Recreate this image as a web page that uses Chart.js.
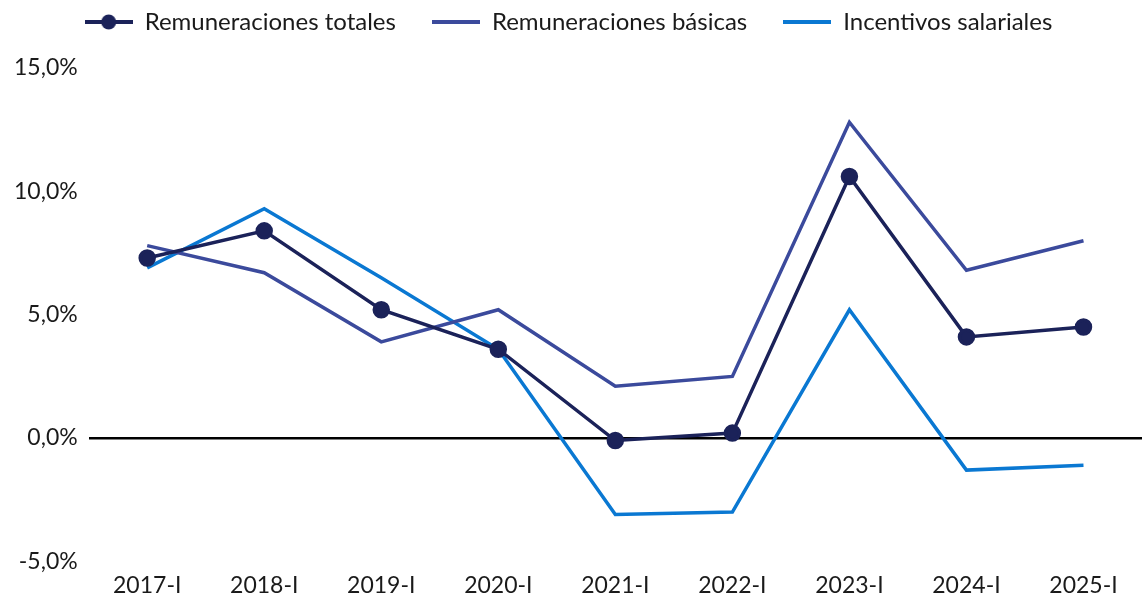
<!DOCTYPE html>
<html lang="es">
<head>
<meta charset="utf-8">
<title>Remuneraciones</title>
<script src="https://cdn.jsdelivr.net/npm/chart.js@4.4.1/dist/chart.umd.min.js"></script>
<style>
    html, body { margin: 0; padding: 0; background: #ffffff; }
    #wrap { position: relative; width: 1142px; height: 601px; }
</style>
</head>
<body>
<div id="wrap"><canvas id="chart"></canvas></div>
<script>
// Data
const periods = ['2017-I', '2018-I', '2019-I', '2020-I', '2021-I', '2022-I', '2023-I', '2024-I', '2025-I'];
const totales = [7.3, 8.4, 5.2, 3.6, -0.1, 0.2, 10.6, 4.1, 4.5];
const basicas = [7.8, 6.7, 3.9, 5.2, 2.1, 2.5, 12.8, 6.8, 8.0];
const incentivos = [6.9, 9.3, 6.5, 3.6, -3.1, -3.0, 5.2, -1.3, -1.1];
const yTicks = [-5, 0, 5, 10, 15];

const FONT = 'Lato, "Open Sans", sans-serif';
const C_TOT = '#1b2259';
const C_BAS = '#3b4a9c';
const C_INC = '#0a78d2';

// little legend markers: a line, optionally with a dot
function legendMarker(color, withDot) {
    const c = document.createElement('canvas');
    c.width = 48;
    c.height = 20;
    const ctx = c.getContext('2d');
    ctx.strokeStyle = color;
    ctx.lineWidth = 4;
    ctx.beginPath();
    ctx.moveTo(0, 10);
    ctx.lineTo(48, 10);
    ctx.stroke();
    if (withDot) {
        ctx.fillStyle = color;
        ctx.beginPath();
        ctx.arc(24, 10, 7.5, 0, Math.PI * 2);
        ctx.fill();
    }
    return c;
}

const markers = [legendMarker(C_TOT, true), legendMarker(C_BAS, false), legendMarker(C_INC, false)];

// extra room under the legend, and nudge it a little to the left
const legendGap = {
    id: 'legendGap',
    beforeInit(chart) {
        const fit = chart.legend.fit;
        chart.legend.fit = function () {
            fit.bind(chart.legend)();
            this.height += 24;
        };
    },
    afterLayout(chart) {
        chart.legend.right -= 20;
    }
};

new Chart(document.getElementById('chart'), {
    type: 'line',
    data: {
        labels: periods,
        datasets: [{
            label: 'Remuneraciones totales',
            data: totales,
            borderColor: C_TOT,
            backgroundColor: C_TOT,
            borderWidth: 3.5,
            pointRadius: 7,
            pointHoverRadius: 7,
            tension: 0
        }, {
            label: 'Remuneraciones básicas',
            data: basicas,
            borderColor: C_BAS,
            backgroundColor: C_BAS,
            borderWidth: 3.5,
            pointRadius: 0,
            tension: 0
        }, {
            label: 'Incentivos salariales',
            data: incentivos,
            borderColor: C_INC,
            backgroundColor: C_INC,
            borderWidth: 3.5,
            pointRadius: 0,
            tension: 0
        }]
    },
    plugins: [legendGap],
    options: {
        responsive: true,
        maintainAspectRatio: false,
        animation: false,
        layout: { autoPadding: false, padding: { left: 3, right: -12, top: -26, bottom: -8 } },
        plugins: {
            tooltip: { enabled: false },
            legend: {
                position: 'top',
                labels: {
                    color: '#1a1a1a',
                    font: { family: FONT, size: 24 },
                    usePointStyle: true,
                    pointStyleWidth: 48,
                    boxHeight: 20,
                    padding: 36,
                    generateLabels: (chart) => chart.data.datasets.map((ds, i) => ({
                        text: ds.label,
                        fillStyle: ds.borderColor,
                        strokeStyle: ds.borderColor,
                        lineWidth: 0,
                        pointStyle: markers[i],
                        hidden: false,
                        datasetIndex: i,
                        fontColor: '#1a1a1a'
                    }))
                }
            }
        },
        scales: {
            x: {
                offset: true,
                grid: { display: false, drawTicks: false },
                border: { display: false },
                ticks: {
                    color: '#1a1a1a',
                    font: { family: FONT, size: 23 },
                    padding: 10,
                    maxRotation: 0
                }
            },
            y: {
                min: yTicks[0],
                max: yTicks[yTicks.length - 1],
                afterBuildTicks: (axis) => { axis.ticks = yTicks.map(v => ({ value: v })); },
                grid: {
                    drawTicks: false,
                    color: (ctx) => ctx.tick && ctx.tick.value === 0 ? '#000000' : 'rgba(0,0,0,0)',
                    lineWidth: (ctx) => ctx.tick && ctx.tick.value === 0 ? 2.5 : 0
                },
                border: { display: false },
                ticks: {
                    color: '#1a1a1a',
                    font: { family: FONT, size: 23 },
                    padding: 11,
                    callback: (v) => v.toFixed(1).replace('.', ',') + '%'
                }
            }
        }
    }
});
</script>
</body>
</html>
